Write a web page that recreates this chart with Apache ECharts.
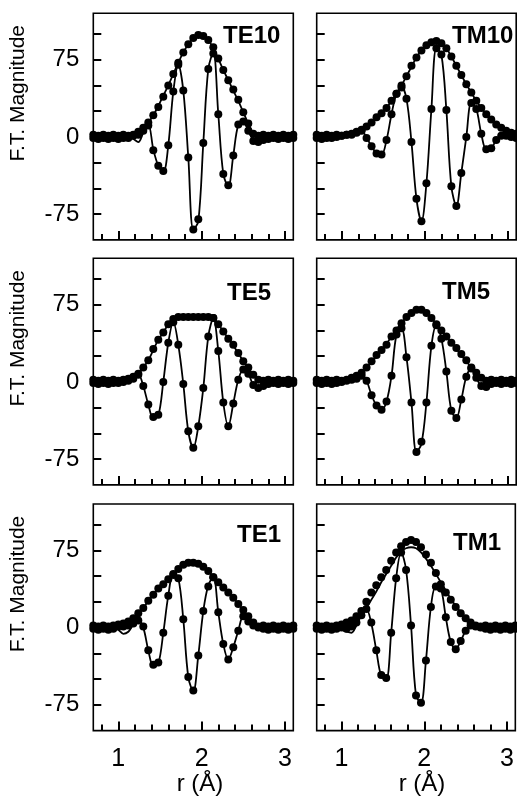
<!DOCTYPE html>
<html>
<head>
<meta charset="utf-8">
<script src="https://cdn.jsdelivr.net/npm/echarts@6/dist/echarts.min.js"></script>
<style>
html,body{margin:0;padding:0;background:#fff;}
#chart{width:517px;height:798px;}
</style>
</head>
<body>
<div id="chart"></div>
<script>
// r grid (Å)
const r = [0.70,0.76,0.82,0.88,0.94,1.00,1.06,1.12,1.18,1.24,1.30,1.36,1.42,1.48,1.54,1.60,1.66,1.72,1.78,1.84,1.90,1.96,2.02,2.08,2.14,2.20,2.26,2.32,2.38,2.44,2.50,2.56,2.62,2.68,2.74,2.80,2.86,2.92,2.98,3.04,3.10];
const panelNames = ['TE10','TM10','TE5','TM5','TE1','TM1'];
const yTickValues = [-75,-50,-25,0,25,50,75,100];
const yLabelValues = [-75,0,75];
const xTickValues = [0.8,1.0,1.2,1.4,1.6,1.8,2.0,2.2,2.4,2.6,2.8,3.0];
const xLabelValues = [1,2,3];
const yAxisTitle = 'F.T. Magnitude';
const xAxisTitle = 'r (Å)';

// TE10
const te10MagDat = [2,1,2,1,2,1,2,1,2,5,9,14,21,29,39,50,61,72,82,90,96,99,98,94,87,76,65,55,46,36,24,13,3,1,2,1,2,1,2,1,2];
const te10MagFit = [0,0,0,0,0,0,0,1,2,5,9,14,21,30,40,50,61,72,82,90,96,99,98,94,86,76,65,55,45,35,24,13,4,1,0,0,0,0,0,0,0];
const te10ImDat  = [-1,-2,-1,-2,-1,-2,-1,-1,1,2,6,11,-13,-28,-33,-8,44,70,45,-20,-90,-80,-6,66,81,22,-36,-47,-18,12,15,6,-4,-5,-3,-2,-1,-2,-1,-2,-1];
const te10ImFit  = [0,0,0,0,0,0,0,0,-2,-5,4,12,-12,-28,-34,-8,44,70,45,-20,-90,-82,-6,66,82,22,-36,-48,-18,12,16,6,-3,-5,-3,-1,0,0,0,0,0];
// TM10
const tm10MagDat = [2,1,2,1,2,1,2,3,5,7,10,14,19,23,28,35,42,50,59,69,77,84,89,92,93,91,86,78,69,60,51,43,35,28,22,17,12,9,6,4,3];
const tm10MagFit = [0,0,1,1,1,1,2,3,4,7,10,14,18,23,28,35,42,50,59,68,77,84,89,92,93,91,86,78,69,60,51,43,35,28,22,16,12,8,6,4,3];
const tm10ImDat  = [-1,-2,-1,-1,0,1,2,2,4,6,-1,-9,-16,-17,-3,22,42,48,37,-5,-60,-82,-45,27,86,80,26,-48,-67,-35,0,33,27,3,-12,-11,-3,1,1,0,-1];
const tm10ImFit  = [0,0,1,1,1,1,2,2,4,6,-1,-9,-16,-17,-3,22,42,48,37,-5,-60,-82,-45,27,86,80,26,-48,-67,-35,0,33,27,3,-12,-11,-3,1,1,1,0];
// TE5
const te5MagDat = [2,1,2,1,2,1,2,3,5,8,14,21,32,41,48,56,61,63,63,63,63,63,63,63,62,56,49,42,36,28,20,14,7,2,1,2,1,2,1,2,1];
const te5MagFit = [0,0,0,0,1,1,2,3,5,8,14,21,31,41,48,56,61,63,63,63,63,63,63,63,62,56,49,42,35,28,20,13,7,2,0,0,0,0,0,0,0];
const te5ImDat  = [-1,-2,-1,-2,-1,-1,0,1,3,7,-4,-22,-34,-32,0,38,58,36,-2,-48,-64,-43,-6,44,62,30,-20,-43,-21,2,12,8,-3,-6,-4,-2,-1,-2,-1,-2,-1];
const te5ImFit  = [0,0,0,0,0,0,0,1,3,7,-4,-22,-35,-33,0,38,58,36,-2,-48,-64,-43,-6,44,62,30,-20,-43,-21,2,12,8,-3,-6,-4,-1,0,0,0,0,0];
// TM5
const tm5MagDat = [2,1,2,1,2,1,2,4,6,9,14,20,26,31,36,44,50,57,63,67,70,70,67,62,56,50,44,38,33,27,21,14,9,4,1,2,1,2,1,2,1];
const tm5MagFit = [0,0,0,0,1,1,2,4,6,9,14,19,25,31,37,44,51,57,63,67,70,70,67,62,56,50,44,38,32,26,20,14,9,4,1,0,0,0,0,0,0];
const tm5ImDat  = [-1,-2,-1,-2,-1,0,1,2,3,6,1,-13,-23,-27,-19,6,46,52,24,-20,-68,-58,-20,35,55,42,10,-28,-35,-17,5,13,4,-4,-5,-2,-1,-2,-1,-2,-1];
const tm5ImFit  = [0,0,0,0,0,0,1,2,3,6,1,-13,-23,-27,-19,6,46,52,24,-20,-68,-60,-20,35,55,42,10,-28,-35,-17,5,13,4,-4,-5,-2,0,0,0,0,0];
// TE1
const te1MagDat = [2,1,2,1,2,3,4,6,9,14,19,26,32,38,42,47,52,57,61,63,63,62,59,55,49,44,39,34,29,23,17,11,5,1,2,1,2,1,2,1,2];
const te1MagFit = [0,0,0,1,2,3,4,6,9,14,19,26,32,38,42,47,52,57,61,63,63,62,59,55,49,44,39,34,29,23,17,11,5,1,0,0,0,0,0,0,0];
const te1ImDat  = [-1,-2,-1,-2,-1,1,1,2,4,7,1,-22,-36,-34,-5,31,51,48,8,-48,-61,-27,16,40,49,15,-16,-31,-19,-3,11,6,2,0,-1,-2,-1,-2,-1,-2,-1];
const te1ImFit  = [0,0,0,0,0,-2,-6,-4,3,8,0,-22,-37,-35,-5,31,52,48,8,-48,-62,-27,16,41,49,15,-16,-31,-19,-3,11,6,2,0,0,0,0,0,0,0,0];
// TM1
const tm1MagDat = [2,1,2,1,2,3,5,7,11,16,25,34,41,49,56,65,73,79,83,85,83,78,71,63,53,42,34,27,20,14,9,5,2,1,2,1,2,1,2,1,2];
const tm1MagFit = [0,0,0,1,1,2,3,5,8,13,19,27,35,44,52,60,68,74,77,78,77,73,67,60,52,44,36,28,21,15,10,6,3,1,0,0,0,0,0,0,0];
const tm1ImDat  = [-1,-2,-1,-2,-1,0,-1,1,5,12,18,5,-22,-46,-49,-5,48,73,56,2,-66,-73,-32,20,40,38,10,-14,-21,-13,-3,2,1,0,-1,-2,-1,-2,-1,-2,-1];
const tm1ImFit  = [0,0,0,0,-1,-2,-4,-5,2,12,18,4,-22,-47,-50,-5,48,73,56,2,-66,-73,-32,20,40,38,10,-14,-21,-13,-3,2,1,0,0,0,0,0,0,0,0];

const panelData = [
  [te10MagDat, te10MagFit, te10ImDat, te10ImFit],
  [tm10MagDat, tm10MagFit, tm10ImDat, tm10ImFit],
  [te5MagDat, te5MagFit, te5ImDat, te5ImFit],
  [tm5MagDat, tm5MagFit, tm5ImDat, tm5ImFit],
  [te1MagDat, te1MagFit, te1ImDat, te1ImFit],
  [tm1MagDat, tm1MagFit, tm1ImDat, tm1ImFit]
];

const FONT = '"Liberation Sans", Arial, Helvetica, sans-serif';
const colLeft = [93.3, 316.7];
const rowTop = [13.3, 258.3, 504];
const gW = 200, gH = 226.6;
const titlePos = [[223, 38], [452, 38], [227, 295], [442, 294], [237, 537], [453, 545]];
function pts(ys){ return r.map((x,i)=>[x, ys[i]]); }

const tickStyle = {color: '#000', width: 2};
const grid = [], xAxis = [], yAxis = [], series = [], texts = [];
for (let i = 0; i < 6; i++) {
  const row = Math.floor(i/2), col = i % 2;
  grid.push({left: colLeft[col], top: rowTop[row], width: col ? 199.5 : gW, height: gH,
    show: true, borderColor: '#000', borderWidth: 1.6, backgroundColor: 'transparent'});
  xAxis.push({type: 'value', gridIndex: i, min: 0.7, max: 3.1, position: 'bottom',
    axisLine: {show: false, onZero: false}, splitLine: {show: false},
    axisTick: {show: true, inside: true, length: 6, customValues: xTickValues, lineStyle: tickStyle},
    axisLabel: {show: row === 2, customValues: xLabelValues, fontSize: 25, color: '#000', margin: 16, fontFamily: FONT}});
  xAxis.push({type: 'value', gridIndex: i, min: 0.7, max: 3.1, position: 'bottom',
    axisLine: {show: false, onZero: false}, splitLine: {show: false},
    axisTick: {show: true, inside: true, length: 9, customValues: xLabelValues, lineStyle: tickStyle},
    axisLabel: {show: false}});
  yAxis.push({type: 'value', gridIndex: i, min: -100, max: 120, position: 'left',
    axisLine: {show: false, onZero: false}, splitLine: {show: false},
    axisTick: {show: true, inside: true, length: 8, customValues: yTickValues, lineStyle: tickStyle},
    axisLabel: {show: col === 0, customValues: yLabelValues, fontSize: 24, color: '#000', margin: 14, fontFamily: FONT}});
  const [magD, magF, imD, imF] = panelData[i];
  const lineBase = {type: 'line', xAxisIndex: 2*i, yAxisIndex: i, showSymbol: false, smooth: 0.35,
    lineStyle: {color: '#000', width: 1.8}, silent: true, animation: false, z: 3};
  series.push(Object.assign({name: panelNames[i] + ' magnitude fit', data: pts(magF)}, lineBase));
  series.push(Object.assign({name: panelNames[i] + ' imaginary fit', data: pts(imF)}, lineBase));
  const dotBase = {type: 'scatter', xAxisIndex: 2*i, yAxisIndex: i, symbol: 'circle', symbolSize: 8,
    itemStyle: {color: '#000', opacity: 1}, silent: true, animation: false, z: 4};
  series.push(Object.assign({name: panelNames[i] + ' magnitude', data: pts(magD)}, dotBase));
  series.push(Object.assign({name: panelNames[i] + ' imaginary', data: pts(imD)}, dotBase));
  texts.push({type: 'text', left: titlePos[i][0], top: titlePos[i][1] - 14,
    style: {text: panelNames[i], font: 'bold 24px ' + FONT, fill: '#000'}});
}
for (let row = 0; row < 3; row++) {
  texts.push({type: 'text', x: 18, y: rowTop[row] + 80, rotation: Math.PI/2,
    style: {text: yAxisTitle, font: '21px ' + FONT, fill: '#000', align: 'center', verticalAlign: 'middle'}});
}
texts.push({type: 'text', x: 200, y: 784, style: {text: xAxisTitle, font: '24px ' + FONT, fill: '#000', align: 'center', verticalAlign: 'middle'}});
texts.push({type: 'text', x: 422, y: 784, style: {text: xAxisTitle, font: '24px ' + FONT, fill: '#000', align: 'center', verticalAlign: 'middle'}});

const chart = echarts.init(document.getElementById('chart'), null, {renderer: 'canvas'});
chart.setOption({animation: false, backgroundColor: '#fff', grid, xAxis, yAxis, series, graphic: texts});
</script>
</body>
</html>
